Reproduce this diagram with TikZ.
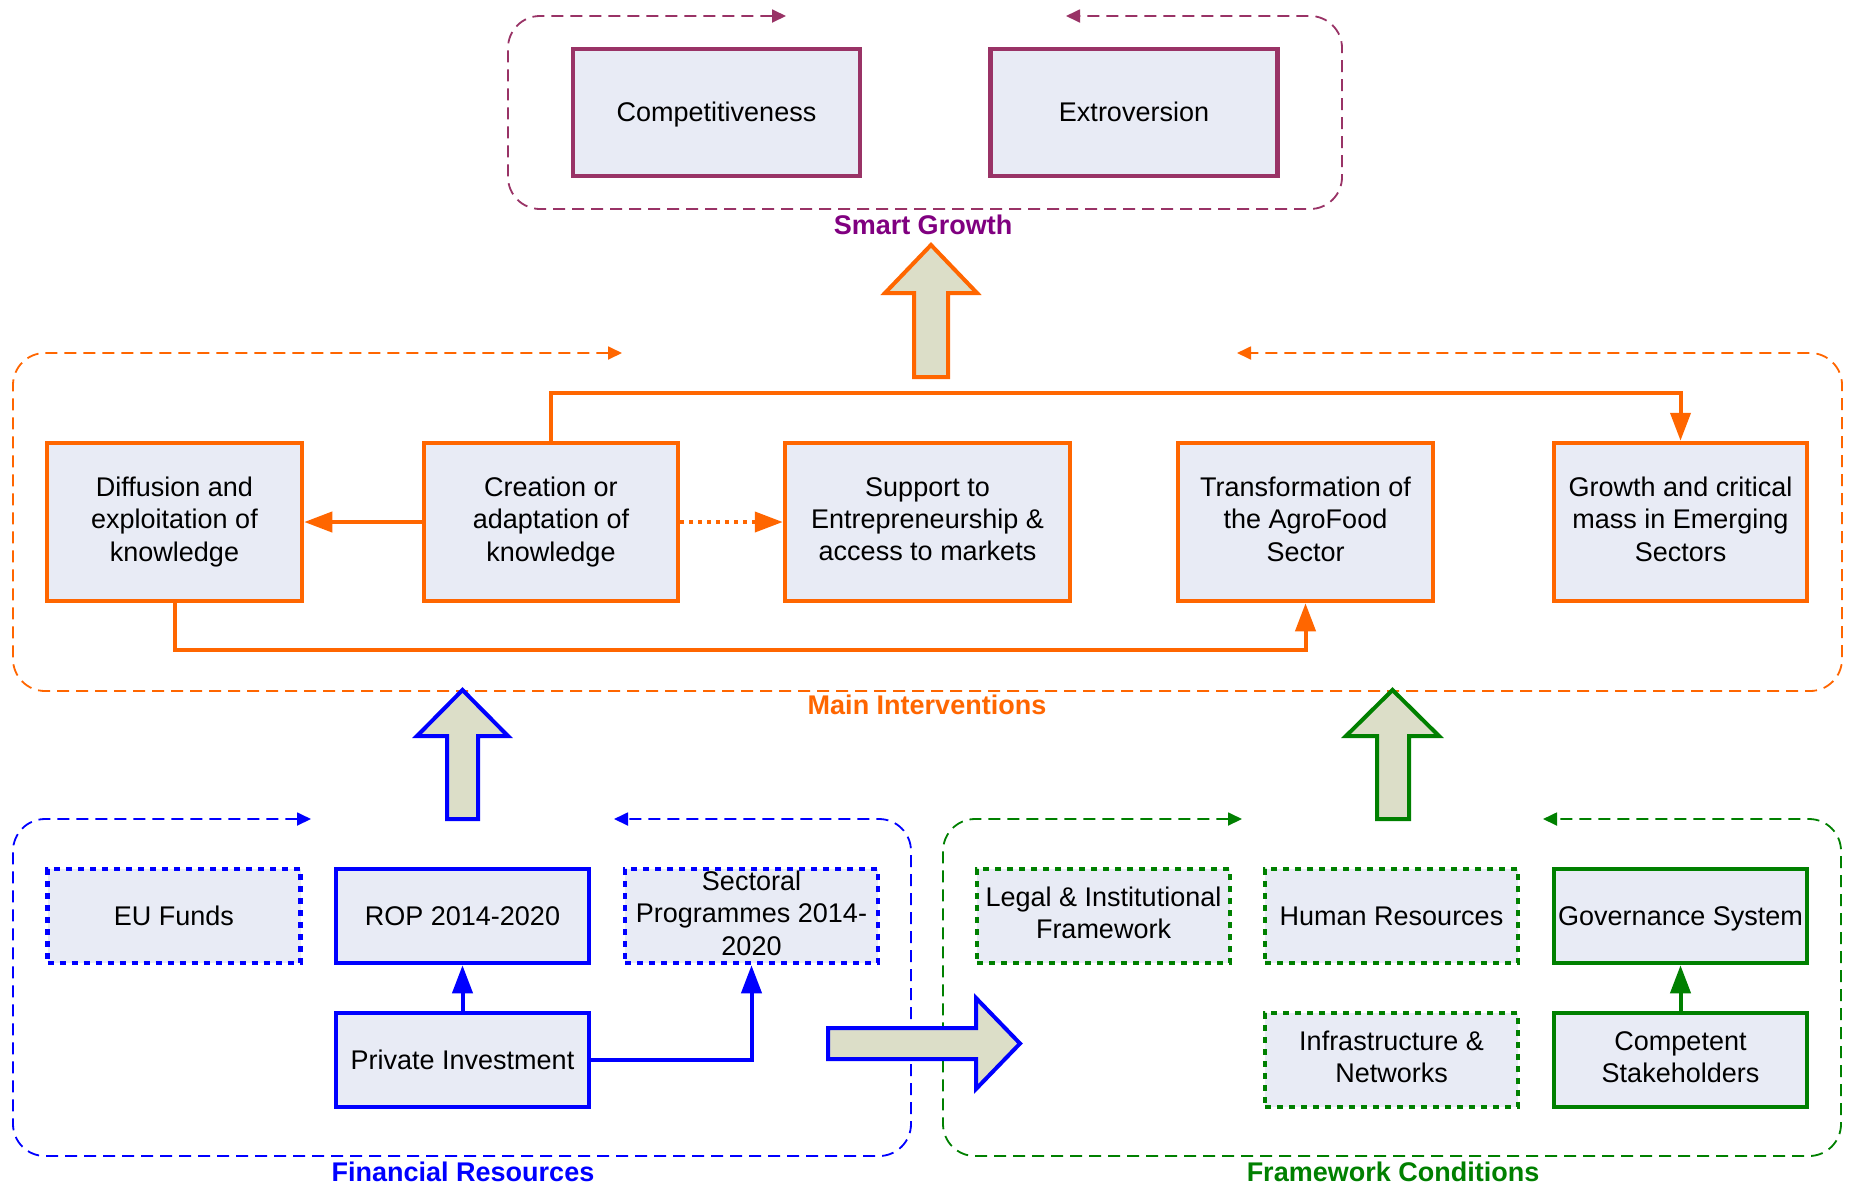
\documentclass[tikz,border=0pt]{standalone}
\usepackage{fontspec}
\setmainfont{Liberation Sans}
\usetikzlibrary{arrows.meta,calc}
\definecolor{sgpurple}{HTML}{993366}
\definecolor{sglabel}{HTML}{800080}
\definecolor{miorange}{HTML}{FF6600}
\definecolor{frblue}{HTML}{0000FF}
\definecolor{fcgreen}{HTML}{008000}
\definecolor{boxfill}{HTML}{E8EBF5}
\definecolor{arrowfill}{HTML}{DCDEC8}
\newcommand{\topstrutx}{\rule{0pt}{24pt}}
\newcommand{\botstrutx}{\rule[-6pt]{0pt}{6pt}}
\tikzset{
 boxbase/.style={draw, fill=boxfill, line width=4.5pt, align=center, inner sep=0pt,
   font=\fontsize{27}{32.4}\selectfont, text=black,
   execute at begin node=\topstrutx, execute at end node=\botstrutx},
 solidbox/.style={boxbase},
 dotbox/.style={boxbase, dash pattern=on 6pt off 6pt},
 cont/.style={line width=1.8pt, dash pattern=on 12pt off 7pt,
   {Triangle[length=14pt,width=13pt]}-{Triangle[length=14pt,width=13pt]}},
 conn/.style={line width=4pt, -{Triangle[length=28pt,width=20pt]}},
 blockarrow/.style={line width=4pt, fill=arrowfill, line join=miter},
 grouplabel/.style={font=\fontsize{27}{32.4}\selectfont\bfseries},
 topbox/.style={solidbox, draw=sgpurple, minimum width=287pt, minimum height=127pt},
 midbox/.style={solidbox, draw=miorange, minimum height=158pt},
 lowbox/.style={minimum width=253pt, minimum height=94pt},
}
\begin{document}
\begin{tikzpicture}[x=1pt,y=-1pt]
\fill[white] (0,0) rectangle (1849,1184);
\useasboundingbox (0,0) rectangle (1849,1184);

% ---------- containers ----------
\draw[cont, sgpurple] (786,16) [rounded corners=32pt] -- (508,16) -- (508,209) -- (1342,209) -- (1342,16) -- (1066,16);
\draw[cont, miorange] (622,353) [rounded corners=32pt] -- (13,353) -- (13,691) -- (1842,691) -- (1842,353) -- (1237,353);
\draw[cont, frblue] (311,819) [rounded corners=32pt] -- (13,819) -- (13,1156) -- (911,1156) -- (911,819) -- (614,819);
\draw[cont, fcgreen] (1242,819) [rounded corners=32pt] -- (943,819) -- (943,1156) -- (1841,1156) -- (1841,819) -- (1543,819);

% ---------- group labels ----------
\node[grouplabel, text=sglabel] (lsg) at (923,225) {Smart Growth};
\node[grouplabel, text=miorange] (lmi) at (927,705) {Main Interventions};
\node[grouplabel, text=frblue] (lfr) at (463,1172) {Financial Resources};
\node[grouplabel, text=fcgreen] (lfc) at (1393,1172) {Framework Conditions};

% ---------- smart growth ----------
\node[topbox] (compet) at (716.5,112.5) {Competitiveness};
\node[topbox] (extro) at (1134,112.5) {Extroversion};

% ---------- main interventions ----------
\node[midbox, minimum width=255pt] (diffusion) at (174.5,522) {Diffusion and\\exploitation of\\knowledge};
\node[midbox, minimum width=254pt] (creation) at (551,522) {Creation or\\adaptation of\\knowledge};
\node[midbox, minimum width=285pt] (support) at (927.5,522) {Support to\\Entrepreneurship \&\\access to markets};
\node[midbox, minimum width=255pt] (transformation) at (1305.5,522) {Transformation of\\the AgroFood\\Sector};
\node[midbox, minimum width=253pt] (growth) at (1680.5,522) {Growth and critical\\mass in Emerging\\Sectors};

% ---------- financial resources ----------
\node[dotbox, lowbox, draw=frblue] (eufunds) at (174,916) {EU Funds};
\node[solidbox, lowbox, draw=frblue] (rop) at (462.5,916) {ROP 2014-2020};
\node[dotbox, lowbox, draw=frblue] (sectoral) at (751.5,916) {Sectoral\\Programmes 2014-\\2020};
\node[solidbox, lowbox, draw=frblue] (private) at (462.5,1060) {Private Investment};

% ---------- framework conditions ----------
\node[dotbox, lowbox, draw=fcgreen] (legal) at (1103.5,916) {Legal \& Institutional\\Framework};
\node[dotbox, lowbox, draw=fcgreen] (human) at (1391.5,916) {Human Resources};
\node[solidbox, lowbox, draw=fcgreen] (governance) at (1680.5,916) {Governance System};
\node[dotbox, lowbox, draw=fcgreen] (infra) at (1391.5,1060) {Infrastructure \&\\Networks};
\node[solidbox, lowbox, draw=fcgreen] (competent) at (1680.5,1060) {Competent\\Stakeholders};

% ---------- connectors ----------
\coordinate (topline) at (0,393);
\coordinate (botline) at (0,650);
\draw[conn, miorange] (creation.west) -- (diffusion.east);
\draw[conn, miorange, dash pattern=on 4pt off 5pt] (creation.east) -- (support.west);
\draw[conn, miorange] (creation.north) -- (creation.north |- topline) -| (growth.north);
\draw[conn, miorange] (diffusion.south) -- (diffusion.south |- botline) -| (transformation.south);
\draw[conn, frblue] (private.north) -- (rop.south);
\draw[conn, frblue] (private.east) -| (sectoral.south);
\draw[conn, fcgreen] (competent.north) -- (governance.south);

% ---------- block arrows ----------
\draw[blockarrow, draw=miorange] (931,245) -- (977,293) -- (948,293) -- (948,377) -- (914,377) -- (914,293) -- (885,293) -- cycle;
\draw[blockarrow, draw=frblue] (462.5,690) -- (508,736) -- (478,736) -- (478,819) -- (447,819) -- (447,736) -- (417,736) -- cycle;
\draw[blockarrow, draw=fcgreen] (1392.5,690) -- (1439,736) -- (1409,736) -- (1409,819) -- (1377,819) -- (1377,736) -- (1346,736) -- cycle;
\draw[blockarrow, draw=frblue] (1020,1043.5) -- (976,1089) -- (976,1059) -- (828,1059) -- (828,1028) -- (976,1028) -- (976,998) -- cycle;
\end{tikzpicture}
\end{document}
